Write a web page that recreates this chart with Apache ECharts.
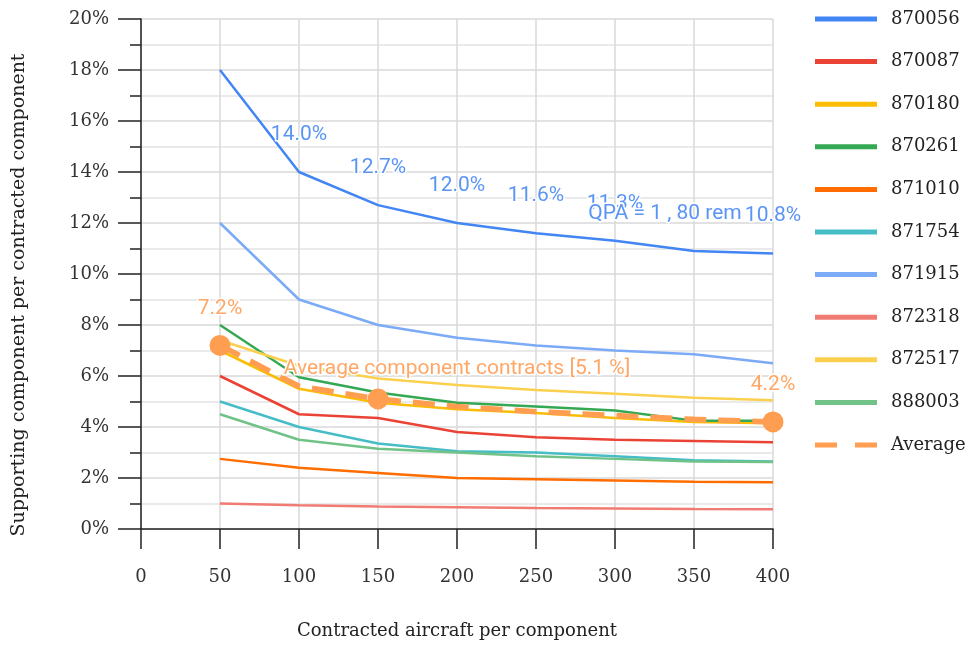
<!DOCTYPE html>
<html>
<head>
<meta charset="utf-8">
<script src="https://cdn.jsdelivr.net/npm/echarts@6/dist/echarts.min.js"></script>
<style>
  html, body { margin: 0; padding: 0; background: #fff; }
  #chart { width: 969px; height: 645px; }
</style>
</head>
<body>
<div id="chart"></div>
<script>
// Contracted aircraft per component (x values)
const contracted = [50, 100, 150, 200, 250, 300, 350, 400];

// Supporting component per contracted component, in percent
const s870056 = [18.0, 14.0, 12.7, 12.0, 11.6, 11.3, 10.9, 10.8];
const s870087 = [6.0, 4.5, 4.35, 3.8, 3.6, 3.5, 3.45, 3.4];
const s870180 = [7.0, 5.5, 4.95, 4.7, 4.55, 4.35, 4.2, 4.15];
const s870261 = [8.0, 5.95, 5.35, 4.95, 4.8, 4.65, 4.25, 4.25];
const s871010 = [2.75, 2.4, 2.2, 2.0, 1.95, 1.9, 1.85, 1.83];
const s871754 = [5.0, 4.0, 3.35, 3.05, 3.0, 2.85, 2.7, 2.65];
const s871915 = [12.0, 9.0, 8.0, 7.5, 7.2, 7.0, 6.85, 6.5];
const s872318 = [1.0, 0.93, 0.88, 0.85, 0.82, 0.8, 0.78, 0.77];
const s872517 = [7.4, 6.4, 5.9, 5.65, 5.45, 5.3, 5.15, 5.05];
const s888003 = [4.5, 3.5, 3.15, 3.0, 2.85, 2.75, 2.65, 2.63];
const sAverage = [7.2, 5.6, 5.1, 4.8, 4.6, 4.45, 4.3, 4.2];

const seriesNames = ['870056', '870087', '870180', '870261', '871010', '871754',
                     '871915', '872318', '872517', '888003'];
const seriesValues = [s870056, s870087, s870180, s870261, s871010, s871754,
                      s871915, s872318, s872517, s888003];

// Annotation texts
const topNote = 'QPA = 1 , 80 rem';
const avgNote = 'Average component contracts [5.1 %]';

const xTicks = [0, 50, 100, 150, 200, 250, 300, 350, 400];
const yTicks = [0, 2, 4, 6, 8, 10, 12, 14, 16, 18, 20];

const palette = ['#4285F4', '#EA4335', '#FBBC04', '#34A853', '#FF6D01',
                 '#46BDC6', '#7BAAF7', '#F07B72', '#FCD04F', '#71C287'];
const avgColor = '#FF9E50';

const serif = '"DejaVu Serif", "Liberation Serif", serif';
const sans = 'Roboto, "Noto Sans", sans-serif';

function pairs(vals) {
  return contracted.map((x, i) => [x, vals[i]]);
}

function pct(v) {
  return v.toFixed(1) + '%';
}

const labelBase = {
  show: true,
  position: 'top',
  distance: 27,
  fontFamily: sans,
  fontSize: 21,
  textBorderColor: '#fff',
  textBorderWidth: 3
};

const series = seriesNames.map((name, k) => ({
  name: name,
  type: 'line',
  data: pairs(seriesValues[k]),
  symbol: 'circle',
  symbolSize: 0,
  showSymbol: true,
  showAllSymbol: true,
  lineStyle: { width: 2.5, color: palette[k] },
  itemStyle: { color: palette[k] },
  z: 3,
  animation: false
}));

// Value labels along the top series; the 350 point carries a note instead
series[0].data = pairs(s870056).map((p, i) => {
  if (i === 0) return { value: p };
  if (i === 6) return { value: p, label: { formatter: topNote, offset: [-29, 0] } };
  return { value: p, label: { formatter: pct(p[1]) } };
});
series[0].label = Object.assign({}, labelBase, { color: '#5A95F5', show: false });
series[0].data.forEach(d => { if (d.label) d.label.show = true; });

// Average line: large markers at 50, 150 and 400, labels above 50, 200 and 400
const avgMarked = [0, 2, 7];
const avgData = pairs(sAverage).map((p, i) => {
  const marked = avgMarked.indexOf(i) >= 0;
  const d = { value: p, symbolSize: marked ? 21 : 0 };
  if (i === 0 || i === 7) d.label = { show: true, formatter: pct(p[1]), distance: 16 };
  if (i === 3) d.label = { show: true, formatter: avgNote, distance: 27 };
  return d;
});

series.push({
  name: 'Average',
  type: 'line',
  data: avgData,
  symbol: 'circle',
  showAllSymbol: true,
  lineStyle: { width: 5.5, color: avgColor, type: [22, 12] },
  itemStyle: { color: avgColor },
  z: 4,
  animation: false,
  label: Object.assign({}, labelBase, { color: '#FFA766', show: false })
});

const chart = echarts.init(document.getElementById('chart'), null, { renderer: 'canvas' });
chart.setOption({
  backgroundColor: '#fff',
  animation: false,
  grid: { left: 141, right: 196, top: 19, bottom: 114, containLabel: false },
  legend: {
    orient: 'vertical',
    left: 810,
    top: 5,
    itemWidth: 62,
    itemHeight: 5,
    itemGap: 24.6,
    icon: 'rect',
    selectedMode: false,
    textStyle: { fontFamily: serif, fontSize: 18, color: '#222', padding: [0, 0, 0, 9] },
    data: seriesNames.concat(['Average']).map(n => n === 'Average'
      ? { name: n, icon: 'path://M0,0H22V5H0ZM40,0H62V5H40Z' }
      : { name: n })
  },
  xAxis: {
    type: 'value',
    min: 0,
    max: 400,
    interval: 50,
    name: 'Contracted aircraft per component',
    nameLocation: 'middle',
    nameGap: 93,
    nameTextStyle: { fontFamily: serif, fontSize: 18, color: '#222' },
    axisLine: { show: true, onZero: false, lineStyle: { color: '#222', width: 1.5 } },
    axisTick: { show: true, length: 20, lineStyle: { color: '#222', width: 1.5 } },
    axisLabel: {
      margin: 39,
      fontFamily: serif, fontSize: 18, color: '#333',
      formatter: v => xTicks.indexOf(v) >= 0 ? String(v) : ''
    },
    splitLine: { show: true, lineStyle: { color: '#d9d9d9', width: 1.5 } }
  },
  yAxis: {
    type: 'value',
    min: 0,
    max: 20,
    interval: 2,
    name: 'Supporting component per contracted component',
    nameLocation: 'middle',
    nameGap: 112,
    nameTextStyle: { fontFamily: serif, fontSize: 19, color: '#222', padding: [0, 42, 0, 0] },
    axisLine: { show: true, lineStyle: { color: '#222', width: 1.5 } },
    axisTick: { show: true, length: 23, lineStyle: { color: '#222', width: 1.5 } },
    minorTick: { show: true, splitNumber: 2, length: 11, lineStyle: { color: '#222', width: 1.5 } },
    minorSplitLine: { show: true, lineStyle: { color: '#e3e3e3', width: 1.5 } },
    axisLabel: {
      margin: 32,
      fontFamily: serif, fontSize: 18, color: '#333',
      formatter: v => yTicks.indexOf(v) >= 0 ? v + '%' : ''
    },
    splitLine: { show: true, lineStyle: { color: '#d9d9d9', width: 1.5 } }
  },
  series: series
});
</script>
</body>
</html>
